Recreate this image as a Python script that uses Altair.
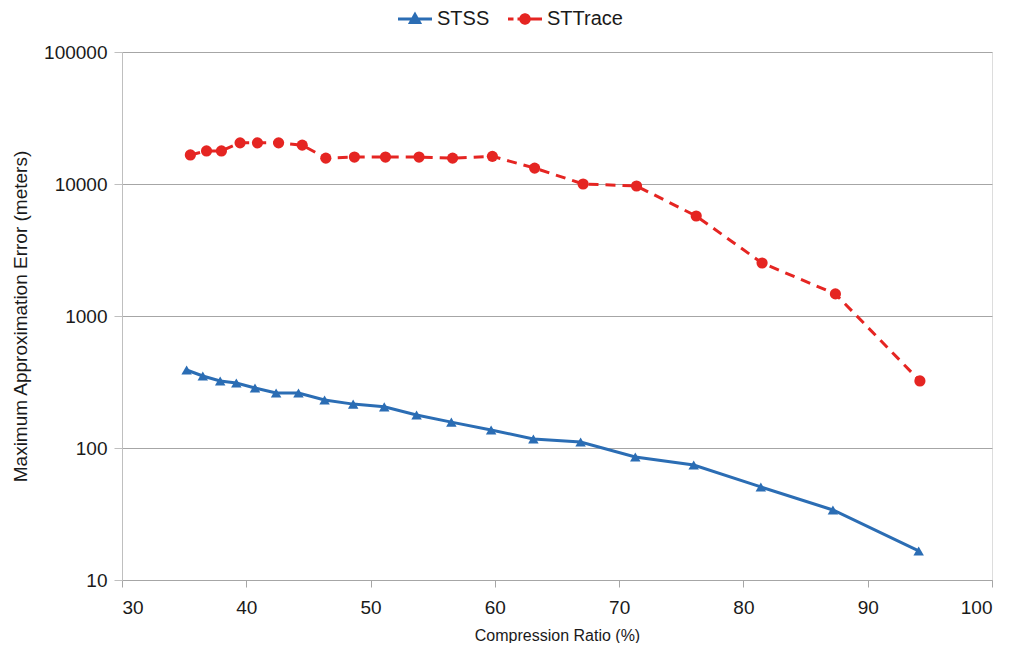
import altair as alt
import pandas as pd

# ---- data ----
series_names = ["STSS", "STTrace"]
colors = ["#2b6db4", "#e52522"]

stss_x = [35.2, 36.5, 37.9, 39.2, 40.7, 42.4, 44.2, 46.3, 48.6, 51.1,
          53.7, 56.5, 59.7, 63.1, 66.9, 71.3, 76.0, 81.4, 87.2, 94.1]
stss_y = [390, 351, 322, 311, 285, 261, 261, 231, 215, 205,
          178, 157, 137, 117, 111, 85.5, 74.3, 50.7, 33.9, 16.6]

sttrace_x = [35.5, 36.8, 38.0, 39.5, 40.9, 42.6, 44.5, 46.4, 48.7, 51.2,
             53.9, 56.6, 59.8, 63.2, 67.1, 71.4, 76.2, 81.5, 87.4, 94.2]
sttrace_y = [16600, 17800, 17800, 20500, 20500, 20500, 19700, 15700, 16000, 16000,
             16000, 15700, 16200, 13200, 10000, 9660, 5720, 2520, 1470, 322]

x_ticks = [30, 40, 50, 60, 70, 80, 90, 100]
y_ticks = [10, 100, 1000, 10000, 100000]

df_stss = pd.DataFrame({"ratio": stss_x, "error": stss_y, "series": series_names[0]})
df_trace = pd.DataFrame({"ratio": sttrace_x, "error": sttrace_y, "series": series_names[1]})

FONT = "Liberation Sans, Arial, Helvetica, sans-serif"
TEXT = "#1a1a1a"

stss_path = "M-3.4,0H3.4M0,-0.9L0.9,0.7L-0.9,0.7Z"
sttrace_path = ("M-3.4,0H-2.3M-1.5,0H3.4"
                "M-0.85,0A0.85,0.85,0,1,1,0.85,0A0.85,0.85,0,1,1,-0.85,0Z")


def make_legend(path, col, lx):
    return alt.Legend(
        title=None,
        orient="none",
        legendX=lx,
        legendY=-45,
        padding=2,
        labelFont=FONT,
        labelFontSize=20,
        labelColor=TEXT,
        labelOffset=12,
        labelLimit=300,
        symbolType=path,
        symbolSize=100,
        symbolFillColor=col,
        symbolStrokeColor=col,
        symbolStrokeWidth=3,
        symbolOpacity=1,
        symbolDash=[1, 0],
    )


x_enc = alt.X(
    "ratio:Q",
    scale=alt.Scale(domain=[30, 100], nice=False),
    axis=alt.Axis(
        values=x_ticks,
        title="Compression Ratio (%)",
        grid=False,
        domainColor="#a6a6a6",
        tickColor="#a6a6a6",
        tickSize=7,
        labelPadding=11,
        labelFont=FONT,
        labelFontSize=19,
        labelColor=TEXT,
        titleFont=FONT,
        titleFontSize=16,
        titleFontWeight="normal",
        titleColor=TEXT,
        titlePadding=10,
    ),
)

y_enc = alt.Y(
    "error:Q",
    scale=alt.Scale(type="log", domain=[10, 100000], nice=False),
    axis=alt.Axis(
        values=y_ticks,
        format="d",
        title="Maximum Approximation Error (meters)",
        grid=True,
        gridColor="#a6a6a6",
        gridWidth=1,
        domainColor="#bfbfbf",
        tickColor="#bfbfbf",
        tickSize=8,
        labelPadding=7,
        labelFont=FONT,
        labelFontSize=19,
        labelColor=TEXT,
        titleFont=FONT,
        titleFontSize=19,
        titleFontWeight="normal",
        titleColor=TEXT,
        titlePadding=13,
    ),
)

stss_line = alt.Chart(df_stss).mark_line(strokeWidth=3).encode(
    x=x_enc, y=y_enc,
    color=alt.Color("series:N",
                    scale=alt.Scale(domain=[series_names[0]], range=[colors[0]]),
                    legend=make_legend(stss_path, colors[0], 281)),
)
stss_pts = alt.Chart(df_stss).mark_point(
    filled=True, opacity=1, size=110, shape="triangle-up", color=colors[0]
).encode(x=x_enc, y=y_enc)

trace_line = alt.Chart(df_trace).mark_line(strokeWidth=3, strokeDash=[10, 7]).encode(
    x=x_enc, y=y_enc,
    color=alt.Color("series:N",
                    scale=alt.Scale(domain=[series_names[1]], range=[colors[1]]),
                    legend=make_legend(sttrace_path, colors[1], 391)),
)
trace_pts = alt.Chart(df_trace).mark_point(
    filled=True, opacity=1, size=125, shape="circle", color=colors[1]
).encode(x=x_enc, y=y_enc)

chart = alt.layer(stss_line, stss_pts, trace_line, trace_pts).resolve_scale(
    color="independent"
).properties(
    width=870,
    height=528,
    autosize=alt.AutoSizeParams(type="none"),
    padding={"left": 114, "top": 44, "right": 14, "bottom": 63},
).configure_view(stroke=None).configure(background="white")

chart.save("out.html", embed_options={"renderer": "svg", "actions": False})
